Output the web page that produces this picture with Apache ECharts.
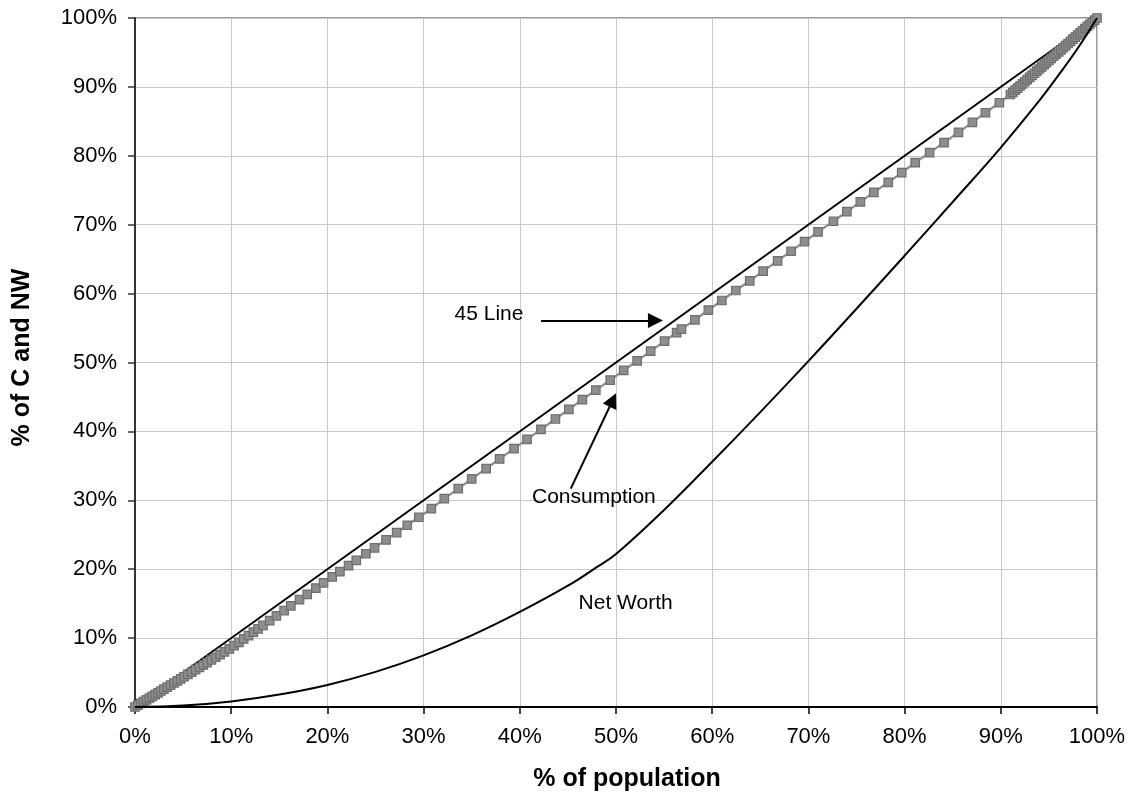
<!DOCTYPE html>
<html>
<head>
<meta charset="utf-8">
<script src="https://cdn.jsdelivr.net/npm/echarts@6/dist/echarts.min.js"></script>
<style>html,body{margin:0;padding:0;background:#fff;}#c{width:1133px;height:800px;}</style>
</head>
<body>
<div id="c"></div>
<script>
// Consumption curve (x = % of population, y = % of consumption)
const consX = [0,0.3,0.6,0.9,1.2,1.5,1.8,2.1,2.4,2.7,3.0,3.35,3.7,4.05,4.4,4.75,5.1,5.5,5.9,6.3,6.7,7.1,7.5,7.95,8.4,8.85,9.3,9.8,10.3,10.8,11.3,11.8,12.3,12.8,13.3,
14.0,14.7,15.5,16.2,17.1,17.9,18.8,19.6,20.5,21.3,22.2,23.0,24.0,24.9,26.1,27.2,28.3,29.5,30.8,32.15,33.6,35.0,36.5,37.9,39.4,40.75,42.2,43.7,45.1,46.5,47.9,49.4,
50.8,52.2,53.6,55.05,56.3,56.8,58.2,59.6,61.0,62.45,63.9,65.3,66.8,68.2,69.6,71.0,72.6,74.0,75.4,76.8,78.3,79.7,81.1,82.6,84.1,85.6,87.05,88.4,89.85,
91.0,91.25,91.5,91.75,92.0,92.25,92.5,92.75,93.0,93.25,93.5,93.75,94.0,94.25,94.5,94.75,95.0,95.25,95.5,95.75,96.0,96.25,96.5,96.75,97.0,97.25,97.5,97.75,98.0,98.25,98.5,98.75,99.0,99.25,99.5,99.75,100];
const consY = [0,0.26,0.52,0.77,1.03,1.29,1.55,1.81,2.06,2.32,2.58,2.88,3.18,3.48,3.78,4.08,4.39,4.73,5.07,5.42,5.76,6.11,6.45,6.84,7.22,7.61,8.0,8.43,8.9,9.39,9.88,10.37,10.86,11.35,11.84,
12.53,13.22,14.0,14.69,15.57,16.36,17.24,18.02,18.88,19.65,20.51,21.28,22.24,23.1,24.26,25.32,26.38,27.54,28.8,30.25,31.7,33.1,34.6,36.0,37.5,38.85,40.3,41.8,43.2,44.6,46.0,47.45,
48.85,50.25,51.65,53.1,54.35,54.85,56.2,57.6,59.0,60.45,61.85,63.25,64.75,66.15,67.55,68.95,70.5,71.9,73.3,74.7,76.15,77.55,79.0,80.45,81.9,83.4,84.85,86.25,87.7,
88.9,89.21,89.52,89.83,90.13,90.44,90.75,91.06,91.37,91.68,91.98,92.29,92.6,92.91,93.22,93.53,93.83,94.14,94.45,94.76,95.07,95.38,95.68,95.99,96.3,96.61,96.92,97.23,97.53,97.84,98.15,98.46,98.77,99.08,99.38,99.69,100];

// Net worth curve
const nwX = [0,5,10,15,20,25,30,35,40,45,48,50,55,60,65,70,75,80,85,90,94,96,98,100];
const nwY = [0,0.2,0.8,1.8,3.2,5.1,7.5,10.4,13.8,17.6,20.3,22.2,28.6,35.6,42.8,50.2,57.8,65.5,73.3,81.2,88.0,91.7,95.6,100];

// 45-degree line
const lineX = [0,100];
const lineY = [0,100];

// Annotation texts and anchor points (data coordinates)
const labelNames = ['45 Line','Consumption','Net Worth'];
const labelX = [36.8,47.7,51.0];
const labelY = [57.0,30.5,15.1];

// Arrows: [tailX, tailY, headX, headY]
const arrows = [[42.2,56.1,54.1,56.1],[45.3,31.7,49.67,44.55]];

const FONT = "'Liberation Sans', Arial, Helvetica, sans-serif";
const zip = (a,b) => a.map((v,i)=>[v,b[i]]);

const chart = echarts.init(document.getElementById('c'), null, {renderer:'canvas'});
chart.setOption({
  animation:false,
  backgroundColor:'#fff',
  grid:{left:135,right:36,top:18,bottom:93,show:true,borderColor:'#9a9a9a',borderWidth:2,backgroundColor:'transparent'},
  xAxis:{
    type:'value',min:0,max:100,interval:10,
    name:'% of population',nameLocation:'middle',nameGap:60,
    nameTextStyle:{fontSize:25,fontWeight:'bold',color:'#000',fontFamily:FONT,padding:[0,0,0,22]},
    axisLine:{show:true,lineStyle:{color:'#000',width:2}},
    axisTick:{show:true,length:7,lineStyle:{color:'#000',width:1.5}},
    axisLabel:{formatter:'{value}%',fontSize:22,color:'#000',fontFamily:FONT,margin:19},
    splitLine:{show:true,lineStyle:{color:'#c8c8c8',width:1}}
  },
  yAxis:{
    type:'value',min:0,max:100,interval:10,
    name:'% of C and NW',nameLocation:'middle',nameGap:100,
    nameTextStyle:{fontSize:25,fontWeight:'bold',color:'#000',fontFamily:FONT,padding:[0,0,0,10]},
    axisLine:{show:true,lineStyle:{color:'#333',width:2}},
    axisTick:{show:true,length:7,lineStyle:{color:'#333',width:1.5}},
    axisLabel:{formatter:'{value}%',fontSize:22,color:'#000',fontFamily:FONT,margin:18},
    splitLine:{show:true,lineStyle:{color:'#c8c8c8',width:1}}
  },
  series:[
    {
      name:'45 Line',type:'line',data:zip(lineX,lineY),symbol:'none',z:2,
      lineStyle:{color:'#000',width:2},silent:true
    },
    {
      name:'Consumption',type:'line',data:zip(consX,consY),symbol:'rect',symbolSize:8.5,showAllSymbol:true,z:3,
      itemStyle:{color:'#8e8e8e',borderColor:'#6e6e6e',borderWidth:1.2},
      lineStyle:{color:'#8c8c8c',width:2.2},silent:true
    },
    {
      name:'Net Worth',type:'line',data:zip(nwX,nwY),symbol:'none',smooth:0.4,z:4,
      lineStyle:{color:'#000',width:2},silent:true,
      markLine:{
        silent:true,symbol:['none','triangle'],symbolSize:15,
        label:{show:false},
        lineStyle:{color:'#000',width:2,type:'solid'},
        data:arrows.map(a=>[{coord:[a[0],a[1]]},{coord:[a[2],a[3]]}])
      },
      markPoint:{
        silent:true,symbol:'rect',symbolSize:1,
        itemStyle:{color:'rgba(0,0,0,0)'},
        label:{show:true,position:'inside',formatter:'{b}',color:'#000',fontSize:21,fontFamily:FONT},
        data:labelNames.map((n,i)=>({name:n,coord:[labelX[i],labelY[i]]}))
      }
    }
  ]
});
</script>
</body>
</html>
